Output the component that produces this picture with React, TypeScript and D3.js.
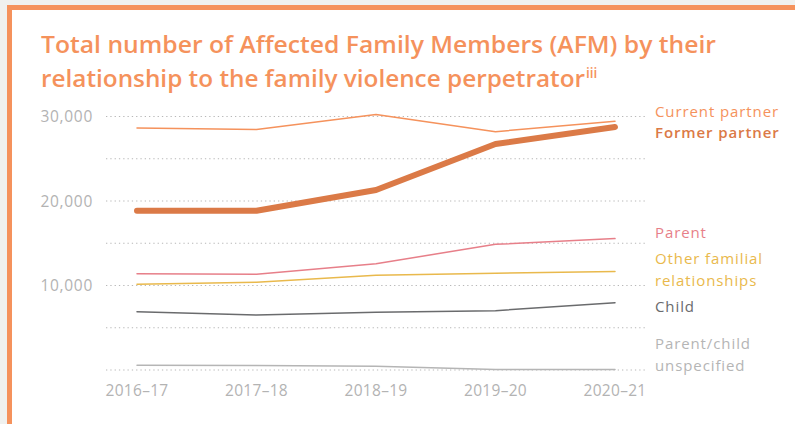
import React from 'react';
import * as d3 from 'd3';

const years = ['2016–17', '2017–18', '2018–19', '2019–20', '2020–21'];

const currentPartner = [28650, 28450, 30250, 28200, 29450];
const formerPartner = [18850, 18850, 21300, 26750, 28750];
const parent = [11400, 11320, 12580, 14870, 15550];
const otherFamilial = [10150, 10380, 11200, 11450, 11650];
const child = [6900, 6500, 6820, 7020, 7950];
const parentChildUnspecified = [560, 540, 450, 60, 50];

const yTicks = [0, 5000, 10000, 15000, 20000, 25000, 30000];
const yLabelTicks = [10000, 20000, 30000];

const series = [
  { name: ['Current partner'], values: currentPartner, color: '#f5925c', width: 1.5, labelY: 117, weight: 500 },
  { name: ['Former partner'], values: formerPartner, color: '#db7a47', width: 6, labelY: 138, weight: 600 },
  { name: ['Parent'], values: parent, color: '#e77f89', width: 1.5, labelY: 238, weight: 500 },
  { name: ['Other familial', 'relationships'], values: otherFamilial, color: '#e9b94c', width: 1.5, labelY: 264, weight: 500 },
  { name: ['Child'], values: child, color: '#6a6b6d', width: 1.5, labelY: 312, weight: 500 },
  { name: ['Parent/child', 'unspecified'], values: parentChildUnspecified, color: '#b5b5b5', width: 1.5, labelY: 349, weight: 500 },
];

const W = 795;
const H = 424;
const font = '"Open Sans", sans-serif';

const App = () => {
  const x = d3.scalePoint<string>().domain(years).range([137, 615]);
  const y = d3.scaleLinear().domain([0, 30000]).range([370, 116.5]);

  const line = d3.line<number>()
    .x((_, i) => x(years[i]) as number)
    .y((d) => y(d));

  return (
    <svg width={W} height={H} style={{ position: 'absolute', left: 0, top: 0 }} fontFamily={font}>
      <rect x={0} y={0} width={W} height={H} fill="#f0f1ef" />
      {/* frame */}
      <rect x={9.5} y={7.5} width={W + 20} height={H - 2} fill="#fff" stroke="#f5925c" strokeWidth={5} />

      <text x={41} y={53} fontSize={23} fontWeight={600} fill="#f5925c" textLength={675} lengthAdjust="spacingAndGlyphs">
        Total number of Affected Family Members (AFM) by their
      </text>
      <text x={41} y={87} fontSize={23} fontWeight={600} fill="#f5925c">
        <tspan textLength={544} lengthAdjust="spacingAndGlyphs">relationship to the family violence perpetrator</tspan>
        <tspan dx={1} dy={-9} fontSize={13.5}>iii</tspan>
      </text>

      {/* gridlines */}
      {yTicks.map((t) => (
        <line key={t} x1={106} x2={645} y1={y(t)} y2={y(t)} stroke="#b8b8b8" strokeWidth={1.2} strokeDasharray="1.3 3" />
      ))}
      {yLabelTicks.map((t) => (
        <text key={t} x={93} y={y(t) + 5.5} textAnchor="end" fontSize={15.5} fill="#b3b3b3" letterSpacing={0.7}>
          {d3.format(',')(t)}
        </text>
      ))}
      {years.map((yr) => (
        <text key={yr} x={x(yr)} y={396} textAnchor="middle" fontSize={15.5} fontWeight={500} fill="#b3b3b3" letterSpacing={0.3}>
          {yr}
        </text>
      ))}

      {series.map((s) => (
        <path key={s.name[0]} d={line(s.values) || ''} fill="none" stroke={s.color} strokeWidth={s.width}
          strokeLinecap="round" strokeLinejoin="round" />
      ))}

      {series.map((s) => (
        <text key={s.name[0]} x={655} y={s.labelY} fontSize={15} fontWeight={s.weight} fill={s.color} letterSpacing={0.9}>
          {s.name.map((n, i) => (
            <tspan key={n} x={655} dy={i === 0 ? 0 : 21.5}>{n}</tspan>
          ))}
        </text>
      ))}
    </svg>
  );
};

export default App;
